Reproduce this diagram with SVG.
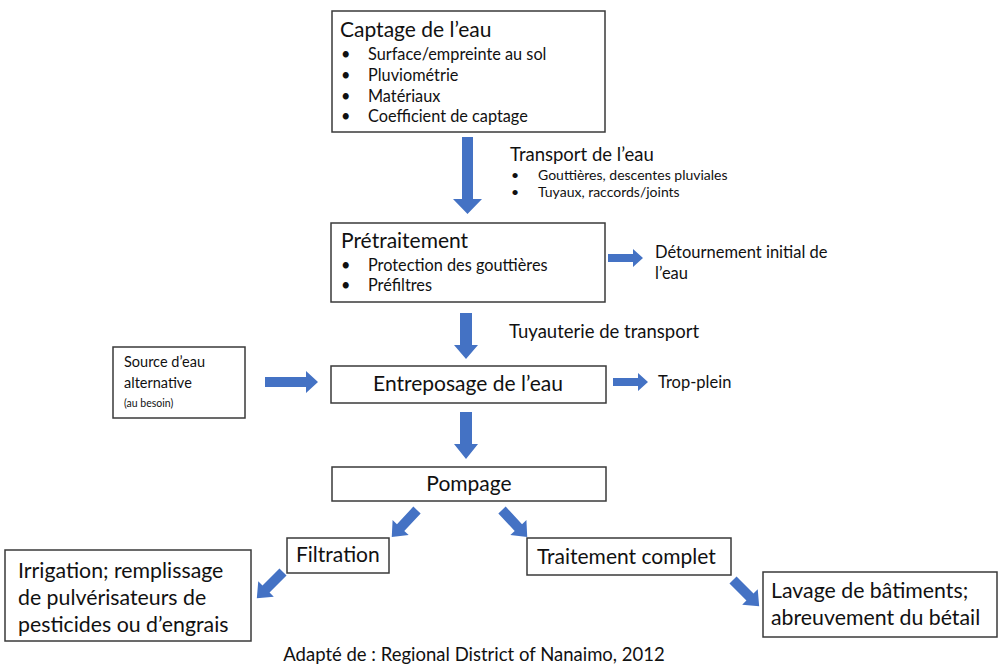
<svg xmlns="http://www.w3.org/2000/svg" width="1000" height="666" viewBox="0 0 1000 666">
<style>
.box{fill:#fff;stroke:#3a3a3a;stroke-width:1.5}
.t{font-family:Lato,"Liberation Sans",sans-serif;fill:#111}
.h{font-size:21px}
.b{font-size:16.3px}
.s{font-size:14px}
.m{font-size:18.5px}
.r{font-size:16.5px}
.l{font-size:21.3px}
.arr{fill:#4472C4}
</style>
<defs>
<path id="adiag" d="M-5,0 L5,0 L5,24 L11,24 L0,37 L-11,24 L-5,24 Z"/>
</defs>
<rect width="1000" height="666" fill="#fff"/>
<g id="connectors" class="arr">
<path d="M462,137 L473,137 L473,199 L482,199 L467.5,214 L453,199 L462,199 Z"/>
<path d="M460,313 L472,313 L472,345 L478,345 L466,359 L454,345 L460,345 Z"/>
<path d="M460,412 L472,412 L472,444 L478,444 L466,459 L454,444 L460,444 Z"/>
<path d="M608,254 L633,254 L633,249 L643,258 L633,267 L633,262 L608,262 Z"/>
<path d="M265,377 L306,377 L306,371 L318,382 L306,393 L306,387 L265,387 Z"/>
<path d="M613,378 L638,378 L638,373 L648,382 L638,391 L638,386 L613,386 Z"/>
<use href="#adiag" transform="translate(417,510) rotate(43)"/>
<use href="#adiag" transform="translate(502,510) rotate(-43)"/>
<use href="#adiag" transform="translate(283,572) rotate(45)"/>
<use href="#adiag" transform="translate(733,580) rotate(-45)"/>
</g>
<g id="captage">
<rect class="box" x="332" y="11" width="273" height="121"/>
<text class="t h" x="340" y="37">Captage de l’eau</text>
<g class="t b">
<text x="341" y="60">•</text><text x="368" y="60">Surface/empreinte au sol</text>
<text x="341" y="81">•</text><text x="368" y="81">Pluviométrie</text>
<text x="341" y="102">•</text><text x="368" y="102">Matériaux</text>
<text x="341" y="122">•</text><text x="368" y="122">Coefficient de captage</text>
</g>
</g>
<g id="transport">
<text class="t m" x="510" y="161">Transport de l’eau</text>
<g class="t s">
<text x="511" y="180">•</text><text x="538" y="180">Gouttières, descentes pluviales</text>
<text x="511" y="197">•</text><text x="538" y="197">Tuyaux, raccords/joints</text>
</g>
</g>
<g id="pretraitement">
<rect class="box" x="331" y="223" width="274" height="79"/>
<text class="t h" x="341" y="248">Prétraitement</text>
<g class="t b">
<text x="341" y="271">•</text><text x="368" y="271">Protection des gouttières</text>
<text x="341" y="291">•</text><text x="368" y="291">Préfiltres</text>
</g>
</g>
<g id="detournement">
<text class="t r" x="655" y="258">Détournement initial de</text>
<text class="t r" x="655" y="279">l’eau</text>
</g>
<g id="tuyauterie">
<text class="t m" x="509" y="338">Tuyauterie de transport</text>
</g>
<g id="source">
<rect class="box" x="113" y="347" width="132" height="71"/>
<text class="t" font-size="14.5" x="124" y="367">Source d’eau</text>
<text class="t" font-size="14.5" x="124" y="388">alternative</text>
<text class="t" font-size="10.5" x="124" y="407">(au besoin)</text>
</g>
<g id="entreposage">
<rect class="box" x="331" y="366" width="275" height="37"/>
<text class="t h" x="468" y="391" text-anchor="middle">Entreposage de l’eau</text>
</g>
<g id="tropplein">
<text class="t r" x="658" y="388">Trop-plein</text>
</g>
<g id="pompage">
<rect class="box" x="332" y="467" width="274" height="34"/>
<text class="t h" x="469" y="491" text-anchor="middle">Pompage</text>
</g>
<g id="filtration">
<rect class="box" x="287" y="538" width="102" height="35"/>
<text class="t h" x="296" y="562">Filtration</text>
</g>
<g id="traitement">
<rect class="box" x="527" y="538" width="204" height="37"/>
<text class="t h" x="537" y="564">Traitement complet</text>
</g>
<g id="irrigation">
<rect class="box" x="5" y="550" width="246" height="91"/>
<text class="t l" x="18" y="578">Irrigation; remplissage</text>
<text class="t l" x="18" y="605">de pulvérisateurs de</text>
<text class="t l" x="18" y="632">pesticides ou d’engrais</text>
</g>
<g id="lavage">
<rect class="box" x="763" y="572" width="234" height="65"/>
<text class="t l" x="771" y="598">Lavage de bâtiments;</text>
<text class="t l" x="771" y="625">abreuvement du bétail</text>
</g>
<g id="caption">
<text class="t" font-size="18.5" x="474" y="661" text-anchor="middle">Adapté de : Regional District of Nanaimo, 2012</text>
</g>
</svg>
